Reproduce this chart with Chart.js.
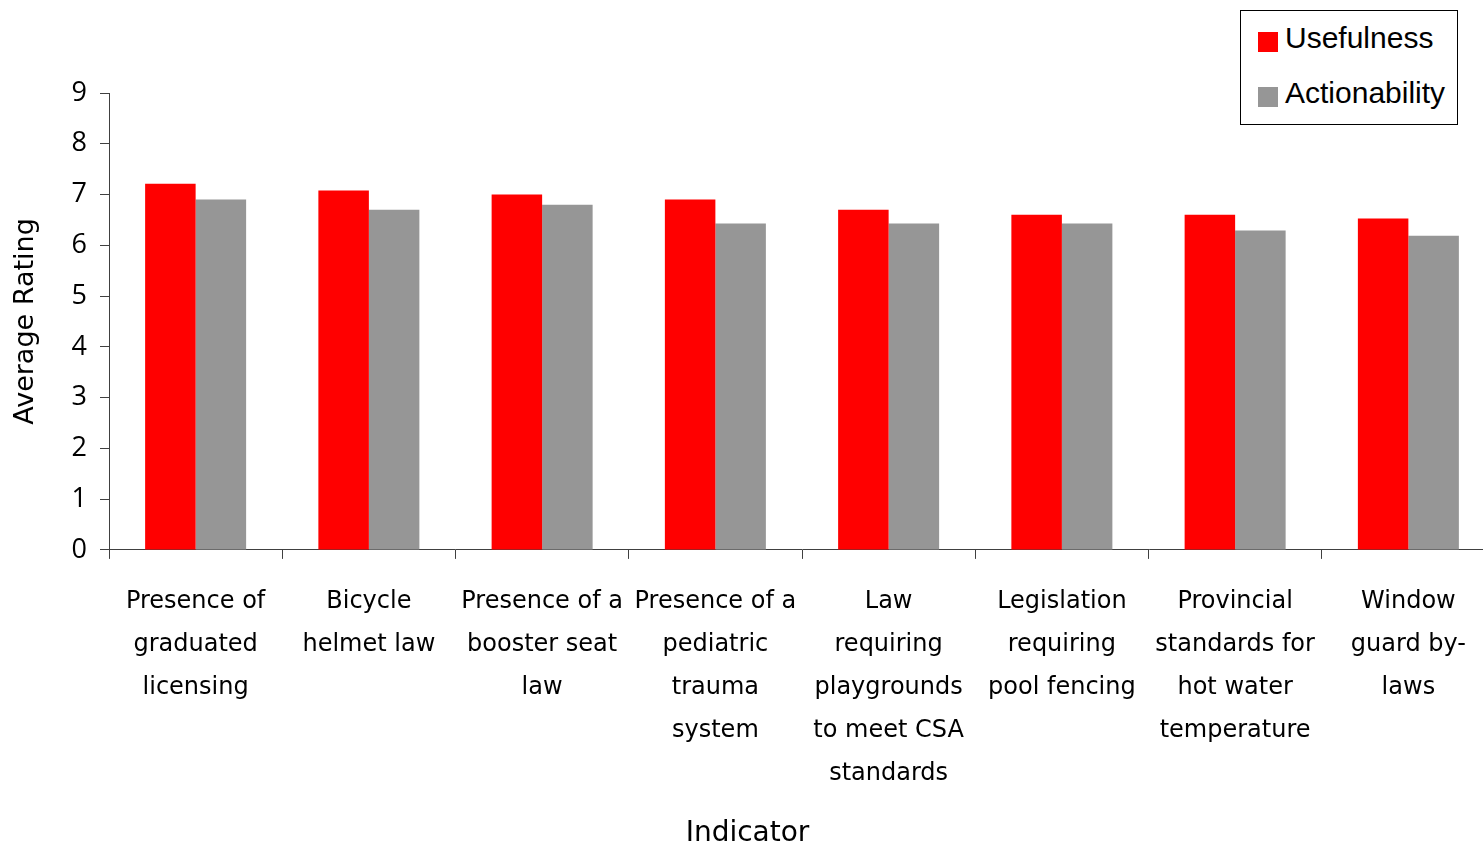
<!DOCTYPE html>
<html>
<head>
<meta charset="utf-8">
<script src="https://cdn.jsdelivr.net/npm/chart.js@4.4.1/dist/chart.umd.min.js"></script>
<style>
    html, body { margin: 0; padding: 0; background: #fff; }
    #wrap { position: relative; width: 1483px; height: 845px; overflow: hidden; }
    #box { position: absolute; left: 0; top: 0; width: 1497px; height: 845px; }
    #legend { position: absolute; left: 1240px; top: 10px; width: 216px; height: 113px;
              border: 1px solid #000; background: #fff; font-family: "Liberation Sans", Arial, sans-serif;
              font-size: 30px; color: #000; }
    .item { position: absolute; left: 17px; height: 20px; }
    .sw { position: absolute; left: 0; top: 0; width: 20px; height: 20px; }
    .lbl { position: absolute; left: 27px; top: -11px; white-space: nowrap; line-height: 34px; }
</style>
</head>
<body>
<div id="wrap">
    <div id="box"><canvas id="ratingChart" width="1497" height="845"></canvas></div>
    <div id="legend"></div>
</div>
<script>
// Chart data
const indicators = [
    ['Presence of', 'graduated', 'licensing'],
    ['Bicycle', 'helmet law'],
    ['Presence of a', 'booster seat', 'law'],
    ['Presence of a', 'pediatric', 'trauma', 'system'],
    ['Law', 'requiring', 'playgrounds', 'to meet CSA', 'standards'],
    ['Legislation', 'requiring', 'pool fencing'],
    ['Provincial', 'standards for', 'hot water', 'temperature'],
    ['Window', 'guard by-', 'laws']
];
const seriesNames = ['Usefulness', 'Actionability'];
const usefulness = [7.21, 7.08, 7.0, 6.9, 6.7, 6.6, 6.6, 6.53];
const actionability = [6.9, 6.7, 6.8, 6.43, 6.43, 6.43, 6.29, 6.19];
const yTicks = [0, 1, 2, 3, 4, 5, 6, 7, 8, 9];
const seriesColors = ['#ff0000', '#969696'];

const ctx = document.getElementById('ratingChart').getContext('2d');

new Chart(ctx, {
    type: 'bar',
    data: {
        labels: indicators,
        datasets: [{
            label: seriesNames[0],
            data: usefulness,
            backgroundColor: seriesColors[0],
            borderWidth: 0
        }, {
            label: seriesNames[1],
            data: actionability,
            backgroundColor: seriesColors[1],
            borderWidth: 0
        }]
    },
    options: {
        responsive: false,
        animation: false,
        events: [],
        layout: { padding: { top: 93, left: 0, right: 2, bottom: 0 } },
        datasets: {
            bar: { categoryPercentage: 0.583, barPercentage: 1.0 }
        },
        plugins: {
            legend: { display: false },
            tooltip: { enabled: false },
            title: {
                display: true,
                text: 'Indicator',
                position: 'bottom',
                color: '#000',
                font: { family: 'DejaVu Sans', size: 28, weight: 'normal', lineHeight: 0.8 },
                padding: { top: 0, bottom: 0 }
            }
        },
        scales: {
            x: {
                grid: { drawOnChartArea: false, tickLength: 9, color: '#404040', offset: true },
                border: { color: '#404040', width: 1 },
                ticks: {
                    autoSkip: false,
                    maxRotation: 0,
                    minRotation: 0,
                    color: '#000',
                    padding: 21,
                    font: { family: 'DejaVu Sans', size: 24, lineHeight: 43 / 24 }
                },
                afterFit: function (scale) { scale.height = 272.7; }
            },
            y: {
                min: 0,
                max: 9,
                afterBuildTicks: function (scale) {
                    scale.ticks = yTicks.map(function (v) { return { value: v }; });
                },
                grid: { drawOnChartArea: false, tickLength: 9, color: '#404040' },
                border: { color: '#404040', width: 1 },
                ticks: {
                    color: '#000',
                    padding: 13,
                    font: { family: 'Open Sans', size: 27 }
                },
                title: {
                    display: true,
                    text: 'Average Rating',
                    color: '#000',
                    font: { family: 'DejaVu Sans', size: 27 },
                    padding: { top: 10, bottom: 0 }
                },
                afterFit: function (scale) { scale.width = 109; }
            }
        }
    }
});

// HTML legend built from the series
const legendEl = document.getElementById('legend');
seriesNames.forEach(function (name, i) {
    const item = document.createElement('div');
    item.className = 'item';
    item.style.top = (21 + i * 55) + 'px';
    item.innerHTML = '<div class="sw" style="background:' + seriesColors[i] + '"></div><div class="lbl">' + name + '</div>';
    legendEl.appendChild(item);
});
</script>
</body>
</html>
